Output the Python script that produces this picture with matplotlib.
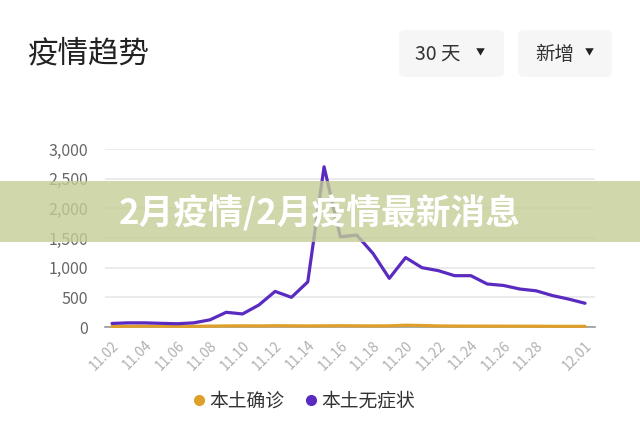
import matplotlib
matplotlib.use("Agg")
import matplotlib.pyplot as plt
from matplotlib.patches import Rectangle, FancyBboxPatch
from matplotlib.lines import Line2D

plt.rcParams['font.family'] = ['Noto Sans CJK SC', 'DejaVu Sans']

dates = ["11.02", "11.03", "11.04", "11.05", "11.06", "11.07", "11.08", "11.09", "11.10",
         "11.11", "11.12", "11.13", "11.14", "11.15", "11.16", "11.17", "11.18", "11.19",
         "11.20", "11.21", "11.22", "11.23", "11.24", "11.25", "11.26", "11.27", "11.28",
         "11.29", "11.30", "12.01"]
confirmed = [10, 12, 15, 14, 12, 12, 15, 18, 20, 18, 22, 20, 18, 20, 22, 20, 18, 20,
             30, 25, 18, 16, 15, 15, 14, 14, 13, 12, 12, 12]
asymptomatic = [60, 70, 70, 62, 55, 70, 120, 248, 220, 370, 600, 500, 760, 2700, 1520,
                1550, 1240, 820, 1170, 1000, 950, 865, 865, 725, 700, 640, 610, 530,
                470, 400]
tick_idx = [0, 2, 4, 6, 8, 10, 12, 14, 16, 18, 20, 22, 24, 26, 29]
y_ticks = [0, 500, 1000, 1500, 2000, 2500, 3000]
series_names = ["本土确诊", "本土无症状"]
title = "疫情趋势"
banner = "2月疫情/2月疫情最新消息"
buttons = ["30 天", "新增"]

W, H = 640, 424
fig = plt.figure(figsize=(W / 100, H / 100), dpi=100)
fig.patch.set_facecolor("white")

# axes: x pixels 105..595, y pixels 149..327
ax = fig.add_axes([105 / W, 1 - 327 / H, 490 / W, (327 - 149) / H])
x = list(range(len(dates)))
orange = "#dea02a"
purple = "#5a2bc0"
ax.plot(x, confirmed, color=orange, lw=2.3, solid_joinstyle="round",
        solid_capstyle="round", clip_on=False, zorder=3)
ax.plot(x, asymptomatic, color=purple, lw=2.3, solid_joinstyle="round",
        solid_capstyle="round", clip_on=False, zorder=4)
ax.set_xlim(-0.43, 29.61)
ax.set_ylim(0, 3000)
ax.set_yticks(y_ticks)
ax.set_yticklabels([f"{v:,}" for v in y_ticks])
ax.set_xticks(tick_idx)
ax.set_xticklabels([dates[i] for i in tick_idx], rotation=45, ha="right",
                   rotation_mode="anchor")
ax.tick_params(axis="both", length=0)
ax.tick_params(axis="y", labelsize=11.5, labelcolor="#666666", pad=12)
ax.tick_params(axis="x", labelsize=10, labelcolor="#b0b0b0", pad=8)
for s in ["top", "right", "left"]:
    ax.spines[s].set_visible(False)
ax.spines["bottom"].set_color("#999999")
ax.spines["bottom"].set_linewidth(1.2)
ax.yaxis.grid(True, color="#e8e8e8", lw=1.2)
ax.set_axisbelow(True)
ax.set_facecolor("none")

# title
fig.text(27 / W, 1 - 54 / H, title, fontsize=22, color="#222222", va="center", ha="left")

# buttons
for (x0, x1, tx, trix), label in zip([(399, 504, 415, 480), (518, 612, 535, 589)], buttons):
    box = FancyBboxPatch((x0 / W, 1 - 77 / H), (x1 - x0) / W, 47 / H,
                         boxstyle="round,pad=0,rounding_size=0.012",
                         transform=fig.transFigure, facecolor="#f6f6f6",
                         edgecolor="none")
    fig.patches.append(box)
    fig.text(tx / W, 1 - 54 / H, label, fontsize=14, color="#333333",
             ha="left", va="center")
    fig.text(trix / W, 1 - 53 / H, "▼", fontsize=6.5,
             color="#222222", ha="center", va="center")

# legend
handles = [Line2D([], [], marker="o", ls="none", color=orange, markersize=7),
           Line2D([], [], marker="o", ls="none", color=purple, markersize=7)]
fig.legend(handles, series_names, loc="center", bbox_to_anchor=(0.472, 1 - 401 / H),
           ncol=2, frameon=False, fontsize=13.5, handletextpad=0.05,
           columnspacing=0.9, labelcolor="#333333", handlelength=1.0)

# banner overlay
fig.patches.append(Rectangle((0, 1 - 242 / H), 1, 61 / H, transform=fig.transFigure,
                             facecolor="#c3cd96", alpha=0.8, edgecolor="none",
                             zorder=10))
fig.text(119 / W, 1 - 213 / H, banner, fontsize=25, color="white", weight="bold",
         ha="left", va="center", zorder=11)

fig.savefig("out.png", dpi=100)
